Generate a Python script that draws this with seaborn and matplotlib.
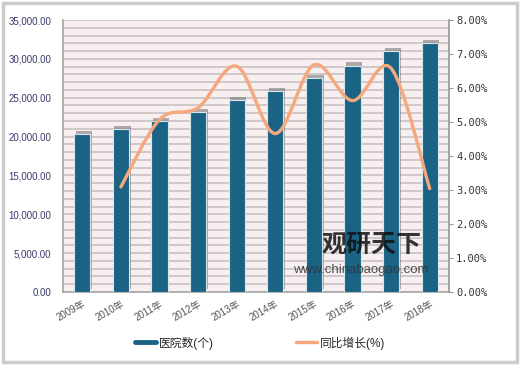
import numpy as np
import pandas as pd
import matplotlib
matplotlib.use('Agg')
import matplotlib.pyplot as plt
import seaborn as sns
from matplotlib.path import Path
from matplotlib.patches import PathPatch, Rectangle
from matplotlib.lines import Line2D
import matplotlib.patheffects as pe

# data
years = ['2009年', '2010年', '2011年', '2012年', '2013年',
         '2014年', '2015年', '2016年', '2017年', '2018年']
hospitals = [20291, 20918, 21979, 23170, 24709, 25860, 27587, 29140, 31056, 32000]
growth = [np.nan, 3.09, 5.07, 5.42, 6.64, 4.66, 6.68, 5.63, 6.58, 3.04]

left_ticks = [0, 5000, 10000, 15000, 20000, 25000, 30000, 35000]
right_ticks = [0, 1, 2, 3, 4, 5, 6, 7, 8]

BLUE = '#1b6384'
ORANGE = '#f5a77e'

sns.set_theme(style='white')
plt.rcParams['font.family'] = ['Liberation Sans', 'Noto Sans CJK SC', 'DejaVu Sans']

fig = plt.figure(figsize=(5.2, 3.65), dpi=100)
fig.patch.set_facecolor('white')
ax = fig.add_axes([63 / 520, 73 / 365, 386 / 520, 272 / 365])
ax.set_facecolor('#f8f0f0')

df = pd.DataFrame({'year': years, 'hospitals': hospitals})
sns.barplot(data=df, x='year', y='hospitals', color=BLUE, saturation=1,
            width=0.42, edgecolor='#d6e4ec', linewidth=0.8, ax=ax)
for p in ax.patches:
    p.set_path_effects([pe.SimplePatchShadow(offset=(1.2, 2.2), shadow_rgbFace='#6e6e6e', alpha=0.55),
                        pe.Normal()])
    p.set_zorder(3)

ax.set_ylim(0, 35000)
ax.set_xlim(-0.5, len(years) - 0.5)
ax.set_yticks(left_ticks)
ax.set_yticklabels([f'{v:,.2f}' for v in left_ticks])
ax.set_yticks(np.arange(0, 35001, 1000), minor=True)
ax.grid(True, axis='y', which='both', color='#cac2c2', lw=1.2)
ax.grid(False, axis='x')
ax.set_axisbelow(True)
ax.tick_params(axis='y', which='both', length=0, labelsize=7, labelcolor='#3a3a6c', pad=8.5)
ax.tick_params(axis='x', length=0, labelsize=7, labelcolor='#555555', pad=5)
for lbl in ax.get_xticklabels():
    lbl.set_rotation(30)
    lbl.set_ha('right')
    lbl.set_rotation_mode('anchor')
ax.set_xlabel('')
ax.set_ylabel('')
for s in ['top', 'right']:
    ax.spines[s].set_visible(False)
ax.spines['left'].set_color('#a8a8a8')
ax.spines['bottom'].set_color('#a8a8a8')

# secondary axis for growth
ax2 = ax.twinx()
ax2.set_ylim(0, 8)
ax2.set_yticks(right_ticks)
ax2.set_yticklabels([f'{v:.2f}%' for v in right_ticks], family='DejaVu Sans Mono')
ax2.tick_params(axis='y', length=3, width=0.8, color='#999999', labelsize=7.5,
                labelcolor='#333333', pad=2)
for s in ['top', 'left', 'bottom']:
    ax2.spines[s].set_visible(False)
ax2.spines['right'].set_color('#999999')
ax2.grid(False)

# smooth line through the growth points (bezier path, like a spreadsheet smoothed line)
pts = np.array([(i, g) for i, g in enumerate(growth) if not np.isnan(g)], dtype=float)
verts = [tuple(pts[0])]
codes = [Path.MOVETO]
for k in range(len(pts) - 1):
    p0 = pts[k - 1] if k > 0 else pts[k]
    p1, p2 = pts[k], pts[k + 1]
    p3 = pts[k + 2] if k + 2 < len(pts) else p2
    c1 = p1 + (p2 - p0) / 6
    c2 = p2 - (p3 - p1) / 6
    verts += [tuple(c1), tuple(c2), tuple(p2)]
    codes += [Path.CURVE4] * 3
ax2.add_patch(PathPatch(Path(verts, codes), fill=False, edgecolor=ORANGE, lw=2.4,
                        capstyle='round', joinstyle='round', zorder=5))

# legend
handles = [Line2D([], [], color=BLUE, lw=3.5), Line2D([], [], color=ORANGE, lw=2.5)]
fig.legend(handles, ['医院数(个)', '同比增长(%)'], loc='center', ncol=2,
           bbox_to_anchor=(0.5, 1 - 343 / 365), frameon=False, fontsize=8.5,
           handlelength=1.8, handletextpad=0.2, columnspacing=7)

# watermark
fig.text(322 / 520, 1 - 245 / 365, '观研天下', fontsize=18, fontweight='bold',
         color='#111111', alpha=0.85, va='center', ha='left', family=['Noto Sans CJK SC'])
fig.text(293 / 520, 1 - 270 / 365, 'www.chinabaogao.com', fontsize=9.5,
         color='#333333', alpha=0.85, va='center', ha='left')

# outer frame
fig.add_artist(Rectangle((3 / 520, 3 / 365), 514 / 520, 359 / 365, transform=fig.transFigure,
                         fill=False, edgecolor='#cccccc', lw=2.5))

fig.savefig('out.png', dpi=100)
